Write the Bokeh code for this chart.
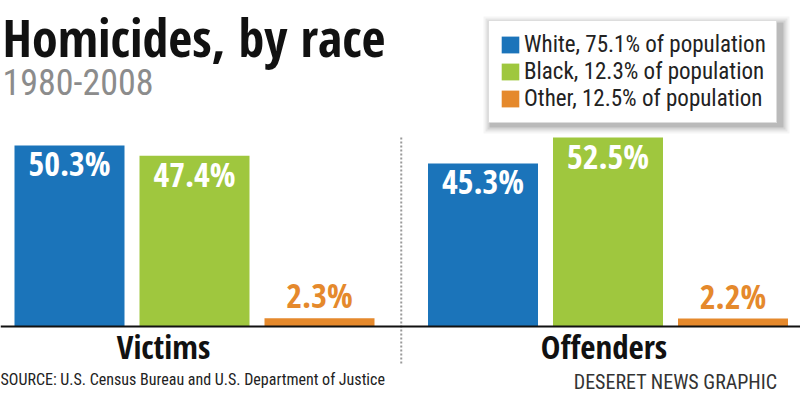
from bokeh.plotting import figure
from bokeh.models import (Range1d, Span, Label, Legend, LegendItem,
                          ColumnDataSource, BoxAnnotation)
from bokeh.core.properties import value
from bokeh.embed import file_html
from bokeh.resources import INLINE

# ---------------- data ----------------
groups = ["Victims", "Offenders"]
races = ["White", "Black", "Other"]
population_share = [75.1, 12.3, 12.5]
victims = [50.3, 47.4, 2.3]
offenders = [45.3, 52.5, 2.2]
race_colors = ["#1b74ba", "#9fc73e", "#e5892c"]

title = "Homicides, by race"
subtitle = "1980-2008"
source_note = "SOURCE: U.S. Census Bureau and U.S. Department of Justice"
credit = "DESERET NEWS GRAPHIC"

# ---------------- layout ----------------
BOLD = "Open Sans Condensed"
REG = "Roboto Condensed"
W, H = 800, 393
GP = 0.308           # gap between groups (in bar slots)
BAR_W = 0.88
X0 = -0.052
X1 = X0 + W / 125.0
PX = 3.6             # pixels per percentage point
BASE_PX = 326        # baseline position from top of plot
Y0 = -(H - BASE_PX) / PX
Y1 = BASE_PX / PX
LBL_SIZE = 34

values = {"Victims": victims, "Offenders": offenders}

p = figure(width=W, height=H, x_range=Range1d(X0, X1), y_range=Range1d(Y0, Y1),
           output_backend="svg", toolbar_location=None, min_border=0,
           outline_line_color=None)
p.xaxis.visible = False
p.yaxis.visible = False
p.xgrid.visible = False
p.ygrid.visible = False
p.background_fill_color = "white"
p.border_fill_color = "white"

renderers = []
in_x, in_y, in_t = [], [], []
out_x, out_y, out_t = [], [], []
for ri, race in enumerate(races):
    xs = [gi * (3 + GP) + ri + 0.5 for gi in range(len(groups))]
    tops = [values[g][ri] for g in groups]
    src = ColumnDataSource(dict(x=xs, top=tops))
    r = p.vbar(x="x", top="top", bottom=0, width=BAR_W, source=src,
               fill_color=race_colors[ri], line_color=None)
    renderers.append(r)
    for x, v in zip(xs, tops):
        if v >= 10:
            in_x.append(x); in_y.append(v); in_t.append(f"{v:.1f}%")
        else:
            out_x.append(x); out_y.append(v); out_t.append(f"{v:.1f}%")

shift = round(0.388 * LBL_SIZE)
p.text(x=in_x, y=in_y, text=in_t, text_color="white", text_font=value(BOLD),
       text_font_style="bold", text_font_size=f"{LBL_SIZE}px", text_align="center",
       text_baseline="alphabetic", y_offset=31 - shift)
p.text(x=out_x, y=out_y, text=out_t, text_color=race_colors[2], text_font=value(BOLD),
       text_font_style="bold", text_font_size=f"{LBL_SIZE}px", text_align="center",
       text_baseline="alphabetic", y_offset=-10 - shift)

# baseline
p.add_layout(Span(location=0, dimension="width", line_color="#111111", line_width=2))

# dotted separator between groups
sep_x = 3 + GP / 2
p.segment(x0=[sep_x], y0=[(BASE_PX - 137) / PX], x1=[sep_x], y1=[(BASE_PX - 365) / PX],
          line_color="#9a9a9a", line_width=2, line_dash="2 2")

# group labels
group_dx = [-31, -4]
for gi, g in enumerate(groups):
    p.add_layout(Label(x=gi * (3 + GP) + 1.5, x_units="data", y=47, y_units="screen",
                       text=g, x_offset=group_dx[gi], text_align="center",
                       text_baseline="alphabetic", text_font=BOLD, text_font_style="bold",
                       text_font_size="33px", text_color="#111111"))

# title & subtitle
p.add_layout(Label(x=2, y=357, x_units="screen", y_units="screen", text=title,
                   text_font=BOLD, text_font_style="bold", text_font_size="52px",
                   text_color="#111111", text_baseline="alphabetic"))
p.add_layout(Label(x=2, y=312, x_units="screen", y_units="screen", text=subtitle,
                   text_font=REG, text_font_size="36px", text_color="#8c8c8c",
                   text_baseline="alphabetic"))

# footer
p.add_layout(Label(x=0, y=14, x_units="screen", y_units="screen", text=source_note,
                   text_font=REG, text_font_size="16px", text_color="#222222",
                   text_baseline="alphabetic"))
p.add_layout(Label(x=777, y=12, x_units="screen", y_units="screen", text=credit,
                   text_font=REG, text_font_size="20px", text_color="#333333",
                   text_align="right", text_baseline="alphabetic"))

# legend shadow
LL, LR, LT, LB = 488, 780, 373, 270
for d, a in [(7, 0.04), (5, 0.06), (3, 0.08), (1, 0.12)]:
    p.add_layout(BoxAnnotation(left=LL - d + 2, right=LR + d + 2, top=LT + d - 3,
                               bottom=LB - d - 3, left_units="screen", right_units="screen",
                               top_units="screen", bottom_units="screen",
                               fill_color="black", fill_alpha=a, line_color=None))

items = [LegendItem(label=f"{race}, {share}% of population", renderers=[r])
         for race, share, r in zip(races, population_share, renderers)]
legend = Legend(items=items, location=(LL, LB), glyph_width=22, glyph_height=21,
                label_standoff=3, spacing=0, padding=10, margin=0,
                label_text_font=REG, label_text_font_size="23px",
                label_text_color="#222222", background_fill_color="white",
                background_fill_alpha=1.0, border_line_color="#bbbbbb")
p.add_layout(legend)

open("out.html", "w").write(file_html(p, INLINE))
